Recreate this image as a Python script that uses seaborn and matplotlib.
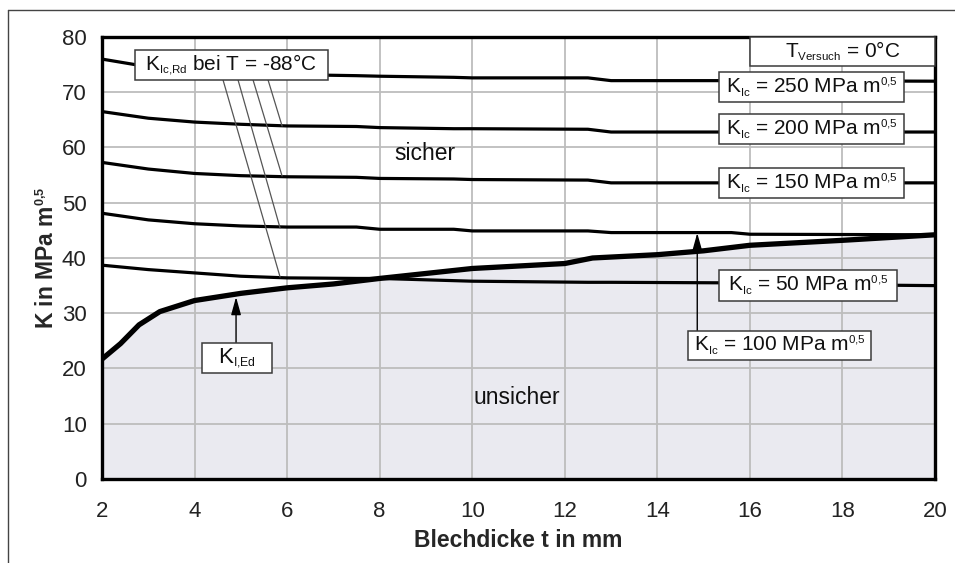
import matplotlib
matplotlib.use('Agg')
import matplotlib.pyplot as plt
import matplotlib.patches as mpatches
import matplotlib._mathtext as mathtext_internal
from matplotlib.lines import Line2D
import seaborn as sns
import pandas as pd

# Blechdicke t (mm) for the K_Ic curves
t_kic = [2, 3, 4, 5, 6, 7.5, 8, 9.6, 10, 12.5, 13, 15.6, 16, 20]
k_250 = [76.0, 74.6, 73.8, 73.5, 73.2, 73.0, 72.9, 72.7, 72.6, 72.6, 72.1, 72.1, 72.1, 72.0]
k_200 = [66.5, 65.3, 64.6, 64.2, 63.9, 63.8, 63.6, 63.4, 63.4, 63.3, 62.8, 62.8, 62.8, 62.8]
k_150 = [57.3, 56.1, 55.3, 54.9, 54.7, 54.6, 54.4, 54.3, 54.2, 54.1, 53.6, 53.6, 53.6, 53.6]
k_100 = [48.1, 46.9, 46.2, 45.8, 45.6, 45.6, 45.2, 45.2, 44.9, 44.9, 44.6, 44.6, 44.3, 44.2]
k_050 = [38.7, 37.9, 37.3, 36.7, 36.4, 36.3, 36.3, 35.9, 35.8, 35.6, 35.6, 35.5, 35.3, 35.0]

# K_I,Ed curve
t_ed = [2, 2.4, 2.8, 3.25, 4, 5, 6, 7, 8, 10, 12, 12.6, 14, 15, 16, 18, 20]
k_ed = [21.7, 24.5, 27.9, 30.3, 32.3, 33.6, 34.6, 35.3, 36.3, 38.1, 39.0, 40.0, 40.6, 41.3, 42.3, 43.2, 44.2]

x_ticks = [2, 4, 6, 8, 10, 12, 14, 16, 18, 20]
y_ticks = [0, 10, 20, 30, 40, 50, 60, 70, 80]

kic_labels = ['250', '200', '150', '100', '50']

sns.set_theme(style='whitegrid')
plt.rcParams['font.family'] = ['Liberation Sans', 'DejaVu Sans']
plt.rcParams['mathtext.fontset'] = 'custom'
plt.rcParams['mathtext.rm'] = 'Liberation Sans'
plt.rcParams['mathtext.it'] = 'Liberation Sans:italic'
plt.rcParams['mathtext.bf'] = 'Liberation Sans:bold'
# the original uses very small indices
mathtext_internal.SHRINK_FACTOR = 0.55

fig = plt.figure(figsize=(9.55, 5.63), dpi=100)
ax = fig.add_axes([0.1068, 0.1492, 0.8723, 0.7851])
ax.set_facecolor('white')

# px -> data helpers for placing boxes (x: 2 at 102px, per mm 46.26px; y: 80 at 37px, per unit 5.525px)
def px2x(px):
    return 2 + (px - 102) / 46.26

def px2y(py):
    return 80 - (py - 37) / 5.525

# unsafe region below K_I,Ed
ax.fill_between(t_ed, k_ed, 0, color='#eaeaf0', zorder=0.3, linewidth=0)

df_kic = pd.DataFrame({'t': t_kic * 5,
                       'K': k_250 + k_200 + k_150 + k_100 + k_050,
                       'kic': sum([[lab] * len(t_kic) for lab in kic_labels], [])})
sns.lineplot(data=df_kic, x='t', y='K', units='kic', estimator=None,
             color='black', linewidth=2.3, ax=ax, zorder=2)
sns.lineplot(x=t_ed, y=k_ed, color='black', linewidth=3.8, ax=ax, zorder=3)

ax.set_xlim(2, 20)
ax.set_ylim(0, 80)
ax.set_xticks(x_ticks)
ax.set_yticks(y_ticks)
ax.grid(True, color='#bdbdbd', linewidth=1.3)
ax.tick_params(axis='both', which='major', labelsize=16, colors='#222222',
               length=5, width=1.2, direction='out')
ax.tick_params(axis='both', color='#bdbdbd')
ax.tick_params(axis='x', pad=11)
ax.tick_params(axis='y', pad=6)
for sp in ax.spines.values():
    sp.set_color('black')
    sp.set_linewidth(2.4)
    sp.set_visible(True)

ax.set_xlabel('Blechdicke t in mm', fontsize=16.5, fontweight='bold', labelpad=5)
ax.set_ylabel(r'K in MPa m$^{\mathregular{0{,}5}}$', fontsize=16.5, fontweight='bold', labelpad=2)


def box(px0, px1, py0, py1, text, fs=15):
    x0, x1 = px2x(px0), px2x(px1)
    y0, y1 = px2y(py1), px2y(py0)
    r = mpatches.Rectangle((x0, y0), x1 - x0, y1 - y0, facecolor='white',
                           edgecolor='#3a3a3a', linewidth=1.1, zorder=5, clip_on=False)
    ax.add_patch(r)
    ax.text((x0 + x1) / 2, (y0 + y1) / 2, text, ha='center', va='center',
            fontsize=fs, color='#111111', zorder=6)


sub = r'K$_{\mathregular{Ic}}$'
sup = r'm$^{\mathregular{0{,}5}}$'
box(719, 904, 72, 102, sub + ' = 250 MPa ' + sup)
box(719, 904, 114, 144, sub + ' = 200 MPa ' + sup)
box(719, 904, 168, 198, sub + ' = 150 MPa ' + sup)
box(719, 897, 270, 301, sub + ' = 50 MPa ' + sup)
box(688, 871, 331, 360, sub + ' = 100 MPa ' + sup)
box(202, 272, 343, 373, r'K$_{\mathregular{I{,}Ed}}$', fs=16)
box(135, 328, 50, 80, r'K$_{\mathregular{Ic{,}Rd}}$ bei T = -88°C')
box(750, 935, 37, 66, r'T$_{\mathregular{Versuch}}$ = 0°C')

# leader lines from the K_Ic,Rd box
for (sx, ex, ey) in [(223, 280, 277), (238, 280, 228), (253, 282, 176), (268, 282, 126)]:
    ax.plot([px2x(sx), px2x(ex)], [px2y(80), px2y(ey)], color='#555555',
            linewidth=0.9, zorder=4)

# arrows
arrow_kw = dict(arrowstyle='-|>,head_length=0.9,head_width=0.25', color='black',
                linewidth=1.0, shrinkA=0, shrinkB=0)
ax.annotate('', xy=(px2x(236), px2y(297)), xytext=(px2x(236), px2y(343)),
            arrowprops=arrow_kw, zorder=4)
ax.annotate('', xy=(px2x(697), px2y(233)), xytext=(px2x(697), px2y(331)),
            arrowprops=arrow_kw, zorder=4)

ax.text(px2x(425), px2y(154), 'sicher', ha='center', va='center', fontsize=16.5, color='#111111')
ax.text(px2x(517), px2y(398), 'unsicher', ha='center', va='center', fontsize=16.5, color='#111111')

# outer frame of the figure
fig.add_artist(Line2D([8 / 955, 8 / 955], [0, 1 - 10 / 563], color='#444444', linewidth=1.0))
fig.add_artist(Line2D([8 / 955, 1], [1 - 10 / 563, 1 - 10 / 563], color='#444444', linewidth=1.0))

plt.savefig('out.png', dpi=100)
plt.close()
